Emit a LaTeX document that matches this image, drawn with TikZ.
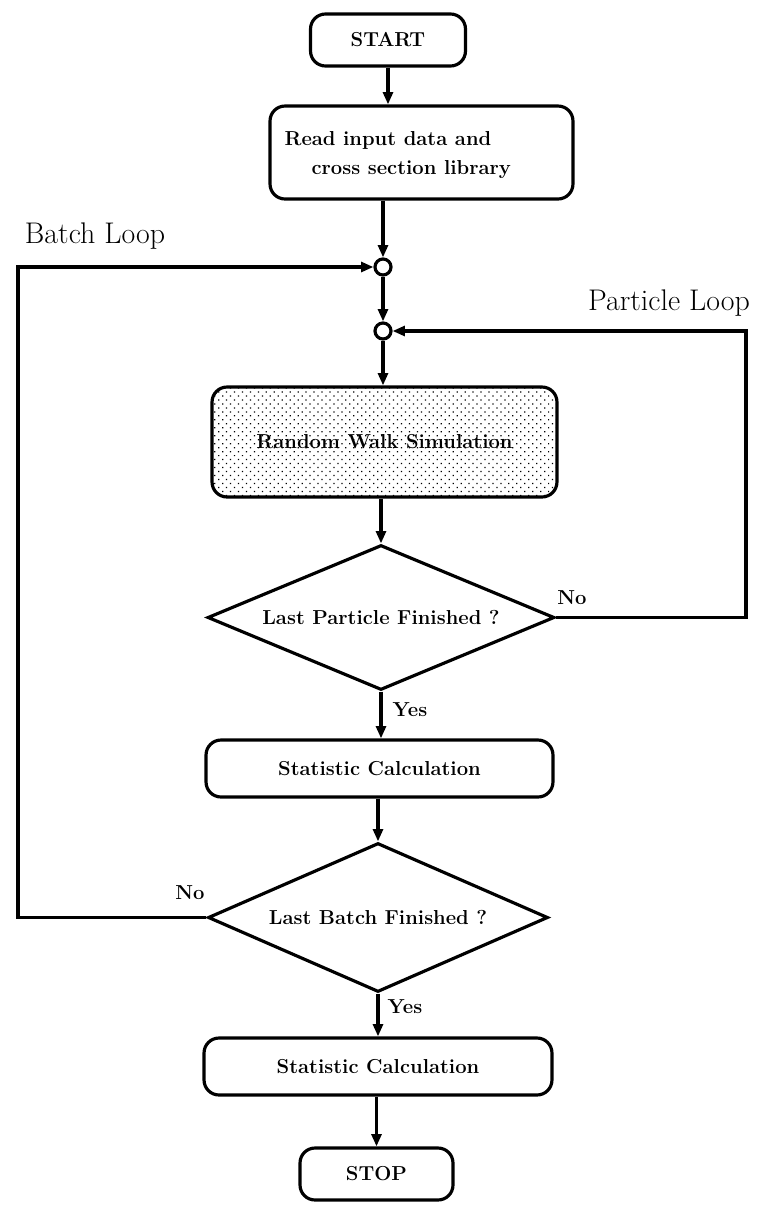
\documentclass[tikz,border=0pt]{standalone}
\usetikzlibrary{shapes.geometric,arrows.meta,patterns.meta}
\begin{document}
\begin{tikzpicture}[x=0.02cm,y=-0.02cm,
  line width=1.8pt,
  every node/.style={font=\fontsize{11.5}{17}\selectfont\bfseries},
  procbox/.style={draw, rounded corners=0.3cm, inner sep=0pt},
  termbox/.style={procbox},
  decision/.style={draw, diamond, shape aspect=2.4, inner sep=0pt},
  junction/.style={draw, circle, fill=white, inner sep=0pt, minimum size=0.32cm},
  arr/.style={-{Triangle[length=7pt,width=5.6pt]}},
  looplabel/.style={font=\fontsize{17}{20}\selectfont},
  anslabel/.style={font=\fontsize{11.5}{13}\selectfont\bfseries}
]
\useasboundingbox (0,0) rectangle (761,1207);

% terminals and process steps
\node[termbox, minimum width=3.1cm, minimum height=1.04cm] (start) at (388,40) {START};
\node[procbox, minimum width=6.06cm, minimum height=1.86cm] (read) at (421.5,152.5) {};
\node[anchor=west, align=left, inner sep=0pt] (readtxt) at (283,155)
  {Read input data and\\\hspace*{0.54cm}cross section library};

\node[junction] (c1) at (383,267) {};
\node[junction] (c2) at (383,331) {};

\node[procbox, minimum width=6.9cm, minimum height=2.2cm,
      pattern={Dots[distance=3.2pt, angle=45, radius=0.5pt]}] (rw) at (384.5,442)
  {Random Walk Simulation};

\node[decision, minimum width=6.94cm, minimum height=2.9cm] (d1) at (381,617.5)
  {Last Particle Finished ?};

\node[procbox, minimum width=6.94cm, minimum height=1.14cm] (stat1) at (379.5,768.5)
  {Statistic Calculation};

\node[decision, minimum width=6.8cm, minimum height=2.98cm] (d2) at (378,917.5)
  {Last Batch Finished ?};

\node[procbox, minimum width=6.96cm, minimum height=1.14cm] (stat2) at (378,1066.5)
  {Statistic Calculation};

\node[termbox, minimum width=3.06cm, minimum height=1.04cm] (stop) at (376.5,1174) {STOP};

% loop corners
\coordinate (pturn) at (746,331);
\coordinate (bturn) at (18,267);

% main flow
\draw[arr] (start.south) -- (start.south |- read.north);
\draw[arr] (c1 |- read.south) -- (c1);
\draw[arr] (c1) -- (c2);
\draw[arr] (c2) -- (c2 |- rw.north);
\draw[arr] (d1.north |- rw.south) -- (d1.north);
\draw[arr] (d1.south) -- (d1.south |- stat1.north);
\draw[arr] (d2.north |- stat1.south) -- (d2.north);
\draw[arr] (d2.south) -- (d2.south |- stat2.north);
\draw[arr] (stop.north |- stat2.south) -- (stop.north);

% loops back
\draw[arr] (d1.east) -| (pturn) -- (c2);
\draw[arr] (d2.west) -| (bturn) -- (c1);

% labels
\node[looplabel] (lbatch) at (95,236) {Batch Loop};
\node[looplabel] (lpart) at (669,303) {Particle Loop};
\node[anslabel] (no1) at (572,598) {No};
\node[anslabel] (yes1) at (410,710) {Yes};
\node[anslabel] (no2) at (190,893) {No};
\node[anslabel] (yes2) at (405,1007) {Yes};
\end{tikzpicture}
\end{document}
